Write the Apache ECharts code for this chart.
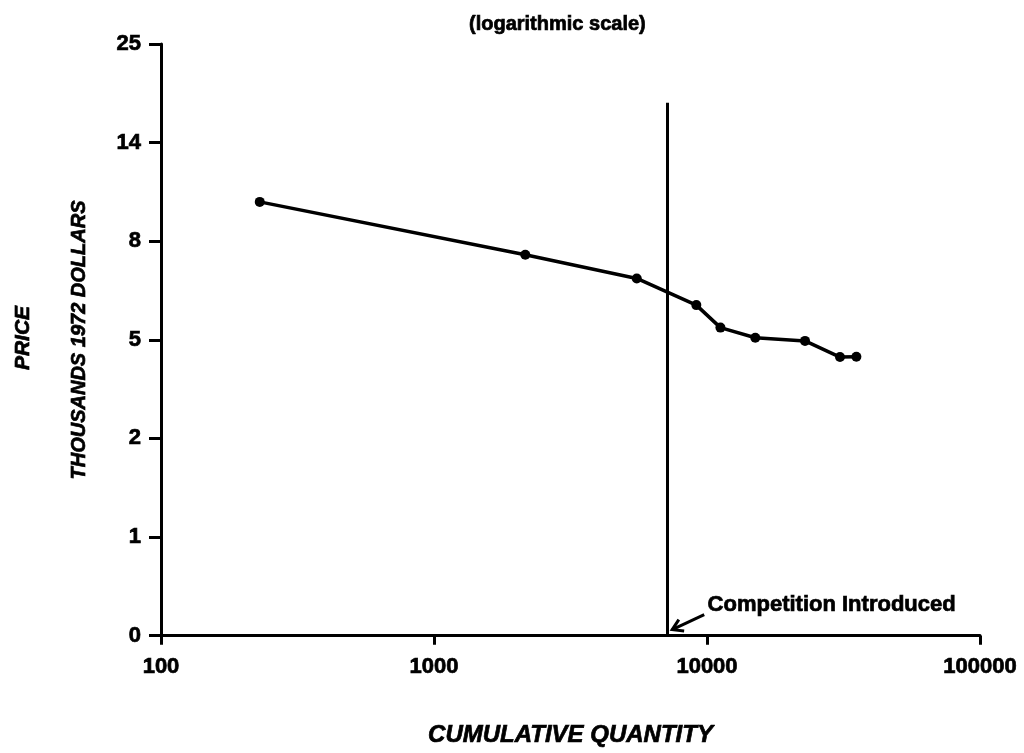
<!DOCTYPE html>
<html>
<head>
<meta charset="utf-8">
<script src="https://cdn.jsdelivr.net/npm/echarts@6/dist/echarts.min.js"></script>
<style>
html,body{margin:0;padding:0;background:#fff;}
#chart{width:1024px;height:753px;}
</style>
</head>
<body>
<div id="chart"></div>
<script>
// ---- data ----
var cumulativeQuantity = [230, 2160, 5530, 9140, 11200, 15030, 22860, 30700, 35250];
var priceThousands     = [10.0, 7.5, 6.7, 5.9, 5.3, 5.05, 4.95, 4.26, 4.27];
var yTickLabels = [0, 1, 2, 5, 8, 14, 25];
var xTickLabels = [100, 1000, 10000, 100000];
var competitionQuantity = 7150;
var competitionLineTopPrice = 17.7;
var titleText = '(logarithmic scale)';
var xAxisTitle = 'CUMULATIVE QUANTITY';
var yAxisTitle1 = 'PRICE';
var yAxisTitle2 = 'THOUSANDS 1972 DOLLARS';
var annotationText = 'Competition Introduced';

// Chart's own y scale: evenly spaced labelled ticks, log-interpolated between ticks
function toAxis(p) {
  for (var i = 0; i < yTickLabels.length - 1; i++) {
    var a = yTickLabels[i], b = yTickLabels[i + 1];
    if (p <= b) {
      if (a <= 0) return i + p / b;
      return i + Math.log(p / a) / Math.log(b / a);
    }
  }
  return yTickLabels.length - 1;
}

var seriesData = cumulativeQuantity.map(function (q, i) { return [q, toAxis(priceThousands[i])]; });

var FONT = 'Liberation Sans, Arial, sans-serif';
var HEAVY = { textBorderColor: '#000', textBorderWidth: 0.7 };
var chart = echarts.init(document.getElementById('chart'));
var option = {
  backgroundColor: '#fff',
  animation: false,
  title: {
    text: titleText, left: 464, top: 9,
    textStyle: Object.assign({ fontFamily: FONT, fontSize: 20, fontWeight: 'bold', color: '#000' }, HEAVY)
  },
  grid: { left: 161, right: 44, top: 44, bottom: 115, containLabel: false },
  xAxis: {
    type: 'log', logBase: 10, min: xTickLabels[0], max: xTickLabels[xTickLabels.length - 1],
    name: xAxisTitle, nameLocation: 'middle', nameGap: 88,
    nameTextStyle: Object.assign({ fontFamily: FONT, fontSize: 24, fontWeight: 'bold', fontStyle: 'italic', color: '#000' }, HEAVY),
    axisLine: { onZero: false, lineStyle: { color: '#000', width: 3 } },
    axisTick: { show: true, length: 9, lineStyle: { color: '#000', width: 3 } },
    axisLabel: Object.assign({ margin: 20, fontFamily: FONT, fontSize: 22, fontWeight: 'bold', color: '#000',
      formatter: function (v) { return String(Math.round(v)); } }, HEAVY),
    splitLine: { show: false }, minorTick: { show: false }
  },
  yAxis: {
    type: 'value', min: 0, max: yTickLabels.length - 1, interval: 1,
    axisLine: { show: true, lineStyle: { color: '#000', width: 3 } },
    axisTick: { show: true, length: 12, lineStyle: { color: '#000', width: 3 } },
    axisLabel: Object.assign({ margin: 20, fontFamily: FONT, fontSize: 22, fontWeight: 'bold', color: '#000',
      formatter: function (v) { return String(yTickLabels[Math.round(v)]); } }, HEAVY),
    splitLine: { show: false }
  },
  series: [{
    type: 'line', data: seriesData,
    lineStyle: { color: '#000', width: 3.5 },
    itemStyle: { color: '#000' },
    symbol: 'circle', symbolSize: 10, showSymbol: true,
    markLine: {
      silent: true, symbol: ['none', 'none'],
      lineStyle: { color: '#000', width: 3, type: 'solid' },
      label: { show: false },
      data: [[{ coord: [competitionQuantity, 0] }, { coord: [competitionQuantity, toAxis(competitionLineTopPrice)] }]]
    }
  }]
};
chart.setOption(option);

// annotation: text + arrow pointing at base of the competition line
var base = chart.convertToPixel({ gridIndex: 0 }, [competitionQuantity, 0]);
var tipX = base[0] + 5, tipY = base[1] - 6;
var tailX = tipX + 32, tailY = tipY - 15;
var ang = Math.atan2(tailY - tipY, tailX - tipX);
var headLen = 12;
function headPt(d) { return [tipX + headLen * Math.cos(ang + d), tipY + headLen * Math.sin(ang + d)]; }
chart.setOption({
  graphic: [
    { type: 'text', left: tailX + 3, top: base[1] - 42,
      style: Object.assign({ text: annotationText, fontFamily: FONT, fontSize: 22, fontWeight: 'bold', fill: '#000', stroke: '#000', lineWidth: 0.7 }) },
    { type: 'polyline', shape: { points: [[tailX, tailY], [tipX, tipY]] }, style: { stroke: '#000', lineWidth: 3 } },
    { type: 'polyline', shape: { points: [headPt(0.55), [tipX, tipY], headPt(-0.55)] }, style: { stroke: '#000', lineWidth: 3, fill: null } },
    { type: 'text', x: 23, y: 338, rotation: Math.PI / 2,
      style: { text: yAxisTitle1, fontFamily: FONT, fontSize: 21, fontWeight: 'bold', fontStyle: 'italic', fill: '#000', stroke: '#000', lineWidth: 0.7, textAlign: 'center', textVerticalAlign: 'middle' } },
    { type: 'text', x: 79, y: 340, rotation: Math.PI / 2,
      style: { text: yAxisTitle2, fontFamily: FONT, fontSize: 20, fontWeight: 'bold', fontStyle: 'italic', fill: '#000', stroke: '#000', lineWidth: 0.7, textAlign: 'center', textVerticalAlign: 'middle' } }
  ]
});
</script>
</body>
</html>
